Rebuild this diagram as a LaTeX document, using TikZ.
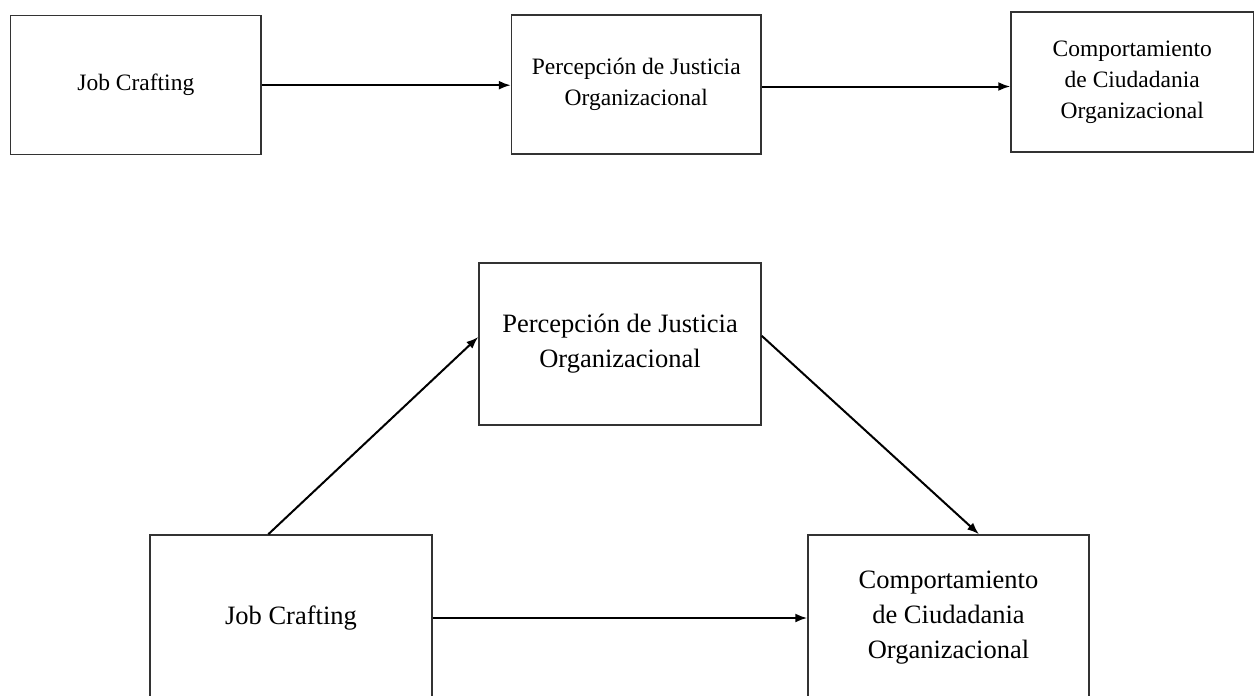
\documentclass[tikz,border=0pt]{standalone}
\usepackage{fontspec}
\setmainfont{Liberation Serif}
\usetikzlibrary{arrows.meta,calc}
\begin{document}
\begin{tikzpicture}[x=1pt,y=-1pt,
  box/.style={draw=black!80, line width=1.5pt, inner sep=0pt, align=center},
  smallbox/.style={box, font=\fontsize{23.5}{31}\selectfont},
  largebox/.style={box, font=\fontsize{26.5}{35}\selectfont},
  link/.style={line width=2pt, -{Latex[length=12pt,width=9pt]}}]
\useasboundingbox (0,0) rectangle (1254,696);

% simple chain model
\node[smallbox, minimum width=250.3pt, minimum height=139pt] (j1) at (135.85,85.2) {Job Crafting};
\node[smallbox, minimum width=249.5pt, minimum height=139pt] (p1) at (636.25,84.5) {Percepción de Justicia\\Organizacional};
\node[smallbox, minimum width=242.5pt, minimum height=140pt] (c1) at (1132.25,82) {Comportamiento\\de Ciudadania\\Organizacional};

\draw[link] (j1.east) -- (j1.east -| p1.west);
\draw[link] ([yshift=-2pt]p1.east) -- ([yshift=-2pt]p1.east -| c1.west);

% mediation model
\node[largebox, minimum width=282pt, minimum height=162pt] (p2) at (620,344) {Percepción de Justicia\\Organizacional};
\node[largebox, minimum width=282pt, minimum height=166pt] (j2) at (291,618) {Job Crafting};
\node[largebox, minimum width=281pt, minimum height=166pt] (c2) at (948.5,618) {Comportamiento\\de Ciudadania\\Organizacional};

\draw[link] ($(j2.north west)!0.42!(j2.north east)$) -- ($(p2.north west)!0.457!(p2.south west)$);
\draw[link] ($(p2.north east)!0.45!(p2.south east)$) -- ($(c2.north west)!0.608!(c2.north east)$);
\draw[link] (j2.east) -- (c2.west);
\end{tikzpicture}
\end{document}
